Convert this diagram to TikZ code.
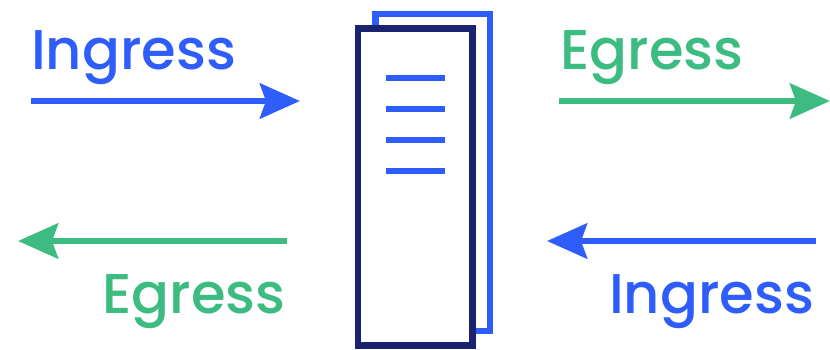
\documentclass[tikz,border=0pt]{standalone}
\usepackage{fontspec}
\setmainfont{Poppins Medium}
\usetikzlibrary{arrows.meta, positioning}
\definecolor{cBlue}{HTML}{2F5DFB}
\definecolor{cNavy}{HTML}{1B2270}
\definecolor{cGreen}{HTML}{3CBC80}

\begin{document}
\begin{tikzpicture}[
  x=1pt, y=-1pt,
  rackbox/.style={rectangle, draw, line width=6.5pt, fill=white, inner sep=0pt,
                  minimum width=114.5pt, minimum height=317pt},
  barline/.style={line width=6.5pt, color=cBlue},
  blabel/.style={font=\fontsize{56}{56}\selectfont, inner sep=0pt, anchor=base west, text=cBlue},
  glabel/.style={blabel, text=cGreen},
  barr/.style={-{Stealth[length=40pt, width=35pt, inset=6pt]}, line width=6.5pt, color=cBlue},
  garr/.style={barr, color=cGreen},
]
\useasboundingbox (0,0) rectangle (830,349);

\node[rackbox, draw=cBlue] (rackback) at (432.75,172.25) {};
\node[rackbox, draw=cNavy] (rackfront) at (415.25,187) {};

% bars on the front rack
\foreach \n/\ypos in {a/78, b/109, c/140, d/171} {
  \coordinate (bar\n l) at (386,\ypos);
  \coordinate (bar\n r) at (445,\ypos);
  \draw[barline] (bar\n l) -- (bar\n r);
}

% arrows
\coordinate (inA) at (31,101);
\coordinate (inB) at (300,101);
\coordinate (egA) at (559,101);
\coordinate (egB) at (830,101);
\coordinate (egC) at (287,241);
\coordinate (egD) at (18,241);
\coordinate (inC) at (816,241);
\coordinate (inD) at (547,241);

\draw[barr] (inA) -- (inB);
\draw[garr] (egA) -- (egB);
\draw[garr] (egC) -- (egD);
\draw[barr] (inC) -- (inD);

\node[blabel] (ingresstop) at (31,69) {Ingress};
\node[glabel] (egresstop) at (560,69) {Egress};
\node[glabel] (egressbot) at (102,313) {Egress};
\node[blabel] (ingressbot) at (609,313) {Ingress};

\end{tikzpicture}
\end{document}
